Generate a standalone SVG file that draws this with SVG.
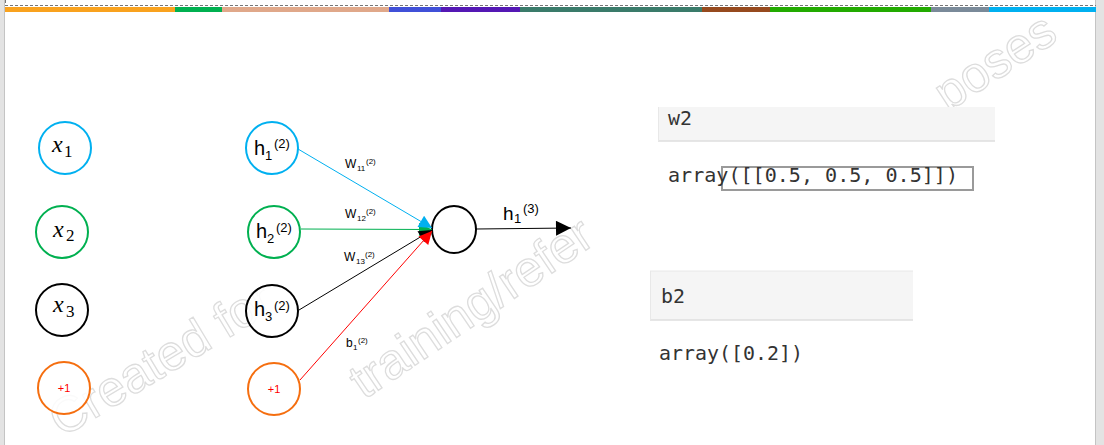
<svg xmlns="http://www.w3.org/2000/svg" width="1104" height="445" viewBox="0 0 1104 445">
  <style>
    .node { fill: #ffffff; stroke-width: 2; }
    .lbl { font-family: "Liberation Sans", Arial, sans-serif; fill: #000; }
    .xlbl { font-family: "Liberation Serif", "DejaVu Serif", serif; font-style: italic; fill: #000; }
    .xsub { font-family: "Liberation Serif", "DejaVu Serif", serif; fill: #000; }
    .one { font-family: "Liberation Sans", Arial, sans-serif; font-size: 11px; fill: #ff0000; text-anchor: middle; }
    .mono { font-family: "DejaVu Sans Mono", "Liberation Mono", monospace; fill: #333; }
    .wm { font-family: "Liberation Sans", Arial, sans-serif; font-size: 50px; fill: none; stroke: #dddddd; stroke-width: 1.3; }
    .edge { fill: none; stroke-width: 1; }
  </style>
  <defs>
    <marker id="mBlue" viewBox="0 0 10 10" refX="10" refY="5" markerWidth="15" markerHeight="13" markerUnits="userSpaceOnUse" orient="auto">
      <path d="M0,0 L10,5 L0,10 z" fill="#00b0f0"/>
    </marker>
    <marker id="mGreen" viewBox="0 0 10 10" refX="10" refY="5" markerWidth="15" markerHeight="13" markerUnits="userSpaceOnUse" orient="auto">
      <path d="M0,0 L10,5 L0,10 z" fill="#00b050"/>
    </marker>
    <marker id="mBlack" viewBox="0 0 10 10" refX="10" refY="5" markerWidth="15" markerHeight="13" markerUnits="userSpaceOnUse" orient="auto">
      <path d="M0,0 L10,5 L0,10 z" fill="#000000"/>
    </marker>
    <marker id="mRed" viewBox="0 0 10 10" refX="10" refY="5" markerWidth="15" markerHeight="13" markerUnits="userSpaceOnUse" orient="auto">
      <path d="M0,0 L10,5 L0,10 z" fill="#ff0000"/>
    </marker>
    <marker id="mOut" viewBox="0 0 10 10" refX="10" refY="5" markerWidth="16" markerHeight="15" markerUnits="userSpaceOnUse" orient="auto">
      <path d="M0,0 L10,5 L0,10 z" fill="#000000"/>
    </marker>
  </defs>

  <!-- frame -->
  <rect x="0" y="0" width="1104" height="445" fill="#ffffff"/>
  <rect x="0" y="0" width="4.5" height="445" fill="#e3e3e3"/>
  <line x1="4.5" y1="0" x2="4.5" y2="445" stroke="#c4c4c4" stroke-width="1"/>
  <rect x="1096" y="0" width="8" height="445" fill="#e3e3e3"/>
  <line x1="1095.5" y1="0" x2="1095.5" y2="445" stroke="#c4c4c4" stroke-width="1"/>
  <line x1="5" y1="5.5" x2="1096" y2="5.5" stroke="#777" stroke-width="1" stroke-dasharray="3 2"/>
  <line x1="5.5" y1="0" x2="5.5" y2="5" stroke="#777" stroke-width="1" stroke-dasharray="3 2"/>

  <g id="colorbar">
    <rect x="5" y="7" width="170" height="5" fill="#f9a21e"/>
    <rect x="175" y="7" width="47" height="5" fill="#00b050"/>
    <rect x="222" y="7" width="167" height="5" fill="#e0a88a"/>
    <rect x="389" y="7" width="52" height="5" fill="#4050d8"/>
    <rect x="441" y="7" width="79" height="5" fill="#5418b4"/>
    <rect x="520" y="7" width="182" height="5" fill="#3a7b6a"/>
    <rect x="702" y="7" width="68" height="5" fill="#964a1e"/>
    <rect x="770" y="7" width="161" height="5" fill="#22aa00"/>
    <rect x="931" y="7" width="58" height="5" fill="#7a8a99"/>
    <rect x="989" y="7" width="107" height="5" fill="#00b0f0"/>
  </g>

  <!-- watermark (behind) -->
  <g id="watermark">
    <text class="wm" transform="translate(62,438) rotate(-31)">Created for</text>
    <text class="wm" transform="translate(364,400) rotate(-34)">training/refer</text>
    <text class="wm" font-size="54" transform="translate(948,112) rotate(-33)">poses</text>
  </g>

  <!-- input column -->
  <g id="x1">
    <circle class="node" cx="65" cy="148" r="26" stroke="#00b0f0" fill-opacity="0.85"/>
    <text class="xlbl" x="52" y="152" font-size="24">x</text>
    <text class="xsub" x="64" y="157" font-size="17">1</text>
  </g>
  <g id="x2">
    <circle class="node" cx="62" cy="232" r="26" stroke="#00b050" fill-opacity="0.85"/>
    <text class="xlbl" x="53" y="237" font-size="24">x</text>
    <text class="xsub" x="66" y="241" font-size="17">2</text>
  </g>
  <g id="x3">
    <circle class="node" cx="62" cy="310" r="26" stroke="#000000" fill-opacity="0.85"/>
    <text class="xlbl" x="53" y="312" font-size="24">x</text>
    <text class="xsub" x="66" y="317" font-size="17">3</text>
  </g>
  <g id="bias1">
    <circle class="node" cx="64" cy="388" r="26" stroke="#f56e0f" fill-opacity="0.85"/>
    <text class="one" x="64" y="392">+1</text>
  </g>

  <!-- hidden column -->
  <g id="h1">
    <circle class="node" cx="272" cy="148" r="26" stroke="#00b0f0" fill-opacity="0.85"/>
    <text class="lbl" x="254" y="155" font-size="20">h</text>
    <text class="lbl" x="265" y="160" font-size="13">1</text>
    <text class="lbl" x="274" y="148" font-size="13">(2)</text>
  </g>
  <g id="h2">
    <circle class="node" cx="274" cy="232" r="26" stroke="#00b050" fill-opacity="0.85"/>
    <text class="lbl" x="256" y="238" font-size="20">h</text>
    <text class="lbl" x="267" y="243" font-size="13">2</text>
    <text class="lbl" x="276" y="232" font-size="13">(2)</text>
  </g>
  <g id="h3">
    <circle class="node" cx="272" cy="311" r="26" stroke="#000000" fill-opacity="0.85"/>
    <text class="lbl" x="254" y="316" font-size="20">h</text>
    <text class="lbl" x="265" y="321" font-size="13">3</text>
    <text class="lbl" x="274" y="310" font-size="13">(2)</text>
  </g>
  <g id="bias2">
    <circle class="node" cx="274" cy="389" r="26" stroke="#f56e0f" fill-opacity="0.85"/>
    <text class="one" x="274" y="393">+1</text>
  </g>

  <!-- output node -->
  <g id="out">
    <ellipse class="node" cx="454" cy="229.5" rx="22" ry="23.5" stroke="#000000"/>
  </g>

  <!-- connectors -->
  <g id="connectors">
    <line class="edge" x1="301" y1="229" x2="432" y2="229.5" stroke="#00b050" marker-end="url(#mGreen)"/>
    <line class="edge" x1="299" y1="310" x2="432" y2="230" stroke="#000000" marker-end="url(#mBlack)"/>
    <line class="edge" x1="300" y1="380" x2="432" y2="231" stroke="#ff0000" marker-end="url(#mRed)"/>
    <line class="edge" x1="298" y1="149" x2="432" y2="228" stroke="#00b0f0" marker-end="url(#mBlue)"/>
    <line class="edge" x1="476" y1="229" x2="571" y2="228" stroke="#000000" marker-end="url(#mOut)"/>
  </g>

  <!-- edge labels -->
  <g id="edge-labels">
    <text class="lbl" x="345" y="168" font-size="12">W</text>
    <text class="lbl" x="357" y="171" font-size="8">11</text>
    <text class="lbl" x="366" y="164" font-size="8">(2)</text>

    <text class="lbl" x="345" y="218" font-size="12">W</text>
    <text class="lbl" x="357" y="221" font-size="8">12</text>
    <text class="lbl" x="366" y="214" font-size="8">(2)</text>

    <text class="lbl" x="344" y="261" font-size="12">W</text>
    <text class="lbl" x="356" y="264" font-size="8">13</text>
    <text class="lbl" x="365" y="257" font-size="8">(2)</text>

    <text class="lbl" x="346" y="347" font-size="12">b</text>
    <text class="lbl" x="353" y="350" font-size="8">1</text>
    <text class="lbl" x="358" y="343" font-size="8">(2)</text>

    <text class="lbl" x="503" y="220" font-size="19">h</text>
    <text class="lbl" x="514" y="223" font-size="13">1</text>
    <text class="lbl" x="523" y="213" font-size="13">(3)</text>
  </g>

  <!-- code cells -->
  <g id="w2cell">
    <rect x="658" y="107" width="337" height="34" fill="#f5f5f5"/>
    <line x1="658" y1="141" x2="995" y2="141" stroke="#dedede" stroke-width="1.5"/>
    <line x1="658.5" y1="107" x2="658.5" y2="141" stroke="#e8e8e8" stroke-width="1"/>
    <text class="mono" x="668" y="125" font-size="19" textLength="24" lengthAdjust="spacingAndGlyphs">w2</text>
    <rect x="722" y="167" width="251" height="23" fill="#ffffff" stroke="#9a9a9a" stroke-width="2"/>
    <text class="mono" x="668" y="182" font-size="20" textLength="290" lengthAdjust="spacingAndGlyphs">array([[0.5, 0.5, 0.5]])</text>
  </g>
  <g id="b2cell">
    <rect x="650" y="271" width="263" height="49" fill="#f5f5f5"/>
    <line x1="650" y1="271" x2="913" y2="271" stroke="#e8e8e8" stroke-width="1"/>
    <line x1="650" y1="320" x2="913" y2="320" stroke="#dedede" stroke-width="1.5"/>
    <line x1="650.5" y1="271" x2="650.5" y2="320" stroke="#e8e8e8" stroke-width="1"/>
    <text class="mono" x="661" y="303" font-size="20" textLength="24" lengthAdjust="spacingAndGlyphs">b2</text>
    <text class="mono" x="659" y="360" font-size="20" textLength="144" lengthAdjust="spacingAndGlyphs">array([0.2])</text>
  </g>
</svg>
